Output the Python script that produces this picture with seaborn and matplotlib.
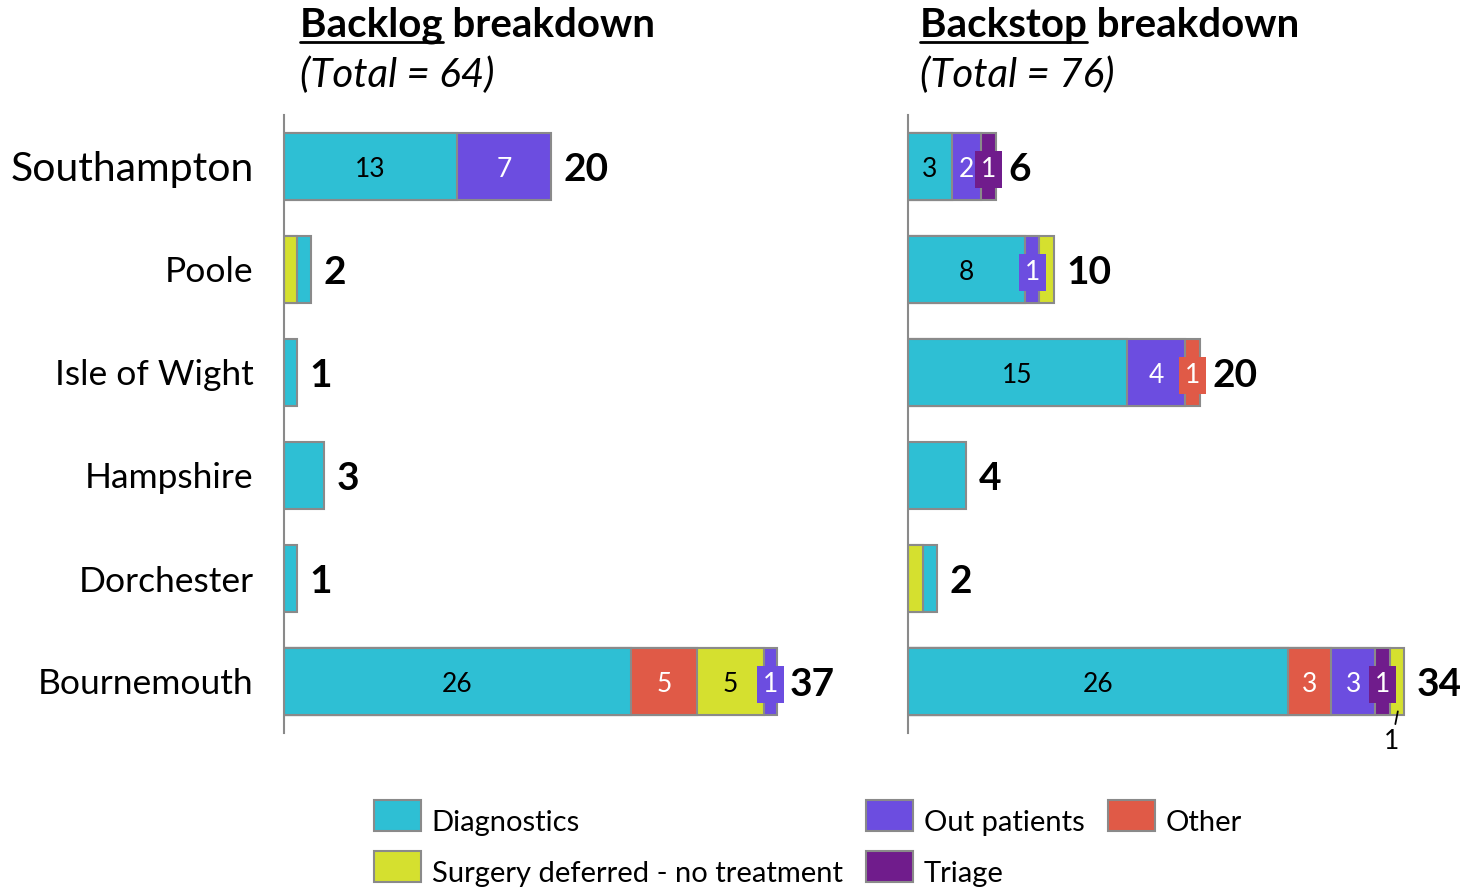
import matplotlib.pyplot as plt
import seaborn as sns
import pandas as pd
from matplotlib.patches import Patch, Rectangle
from matplotlib.legend_handler import HandlerPatch
from matplotlib.lines import Line2D

# regions, top to bottom
regions = ["Southampton", "Poole", "Isle of Wight", "Hampshire", "Dorchester", "Bournemouth"]

series = ["Diagnostics", "Surgery deferred - no treatment", "Out patients", "Triage", "Other"]
series_colors = ["#2EBFD4", "#D5E02F", "#6C4DE0", "#701C8C", "#E05A47"]
white_text = ["Out patients", "Triage", "Other"]

# segments of each row, in the order they are stacked
backlog_cats = [
    ["Diagnostics", "Out patients"],
    ["Surgery deferred - no treatment", "Diagnostics"],
    ["Diagnostics"],
    ["Diagnostics"],
    ["Diagnostics"],
    ["Diagnostics", "Other", "Surgery deferred - no treatment", "Out patients"],
]
backlog_vals = [[13, 7], [1, 1], [1], [3], [1], [26, 5, 5, 1]]

backstop_cats = [
    ["Diagnostics", "Out patients", "Triage"],
    ["Diagnostics", "Out patients", "Surgery deferred - no treatment"],
    ["Diagnostics", "Out patients", "Other"],
    ["Diagnostics"],
    ["Surgery deferred - no treatment", "Diagnostics"],
    ["Diagnostics", "Other", "Out patients", "Triage", "Surgery deferred - no treatment"],
]
backstop_vals = [[3, 2, 1], [8, 1, 1], [15, 4, 1], [4], [1, 1], [26, 3, 3, 1, 1]]

sns.set_theme(style="white")
plt.rcParams["font.family"] = ["Lato", "DejaVu Sans"]
plt.rcParams["text.color"] = "black"

palette = dict(zip(series, series_colors))
EDGE = "#8A8A8A"
W, H = 1460, 896
DY = 0.03  # nudge digits down so they sit visually centred in the bar


def stacked_panel(ax, cats, vals, xmax, skip=(), below=()):
    depth = max(len(v) for v in vals)
    # draw cumulative bars from the outermost layer inwards
    for k in reversed(range(depth)):
        rows = [(reg, sum(v[:k + 1]), c[k]) for reg, c, v in zip(regions, cats, vals) if len(v) > k]
        df = pd.DataFrame(rows, columns=["region", "cum", "series"])
        sns.barplot(data=df, x="cum", y="region", hue="series", order=regions,
                    hue_order=series, palette=palette, dodge=False, width=0.65,
                    saturation=1, errorbar=None, edgecolor=EDGE, linewidth=1.5,
                    legend=False, ax=ax)

    for i, (c, v) in enumerate(zip(cats, vals)):
        total = sum(v)
        left = 0
        if len(v) > 1 and total >= 5:
            for j, (cc, vv) in enumerate(zip(c, v)):
                mid = left + vv / 2
                left += vv
                if (i, j) in skip:
                    continue
                col = "white" if cc in white_text else "black"
                if (i, j) in below:
                    ax.annotate(str(vv), xy=(mid + 0.05, i + 0.29), xytext=(mid - 0.35, i + 0.58),
                                ha="center", va="center", fontsize=19, color="black",
                                annotation_clip=False,
                                arrowprops=dict(arrowstyle="-", color="black", lw=1.3,
                                                shrinkA=1, shrinkB=0))
                elif vv == 1:
                    ax.text(mid, i + DY, str(vv), ha="center", va="center", fontsize=19, color=col,
                            bbox=dict(boxstyle="square,pad=0.22", fc=palette[cc], ec="none"))
                else:
                    ax.text(mid, i + DY, str(vv), ha="center", va="center", fontsize=19, color=col)
        ax.annotate(str(total), xy=(total, i + DY), xytext=(9, 0), textcoords="offset points",
                    ha="left", va="center", fontsize=28, fontweight="bold",
                    annotation_clip=False)

    ax.set_xlim(0, xmax)
    ax.set_xlabel("")
    ax.set_ylabel("")
    ax.set_xticks([])
    for s in ["top", "right", "bottom"]:
        ax.spines[s].set_visible(False)
    ax.spines["left"].set_color(EDGE)
    ax.spines["left"].set_linewidth(1.5)
    ax.tick_params(axis="y", length=0, pad=22, labelsize=25.5, labelcolor="black")


fig = plt.figure(figsize=(W / 100, H / 100), dpi=100)
ax1 = fig.add_axes([284 / W, 163 / H, 600 / W, 618 / H])
ax2 = fig.add_axes([908 / W, 163 / H, 547.5 / W, 618 / H])

stacked_panel(ax1, backlog_cats, backlog_vals, 45)
stacked_panel(ax2, backstop_cats, backstop_vals, 37.5, skip={(1, 2)}, below={(5, 4)})
ax2.set_yticklabels([])
for lab in ax1.get_yticklabels():
    lab.set_va("center_baseline")
    if lab.get_text() == "Southampton":
        lab.set_fontsize(29.5)


def panel_title(x_px, word, rest, total):
    y = 1 - 37 / H
    fig.text(x_px / W, y, word + " " + rest, fontsize=29, fontweight="bold", va="baseline")
    w = fig.text(x_px / W, y, word, fontsize=29, fontweight="bold", va="baseline", alpha=0)
    fig.text(x_px / W, 1 - 87 / H, f"(Total = {total})", fontsize=29, fontstyle="italic",
             va="baseline")
    fig.canvas.draw()
    bb = w.get_window_extent()
    uy = 1 - 42 / H
    fig.add_artist(Line2D([bb.x0 / W, bb.x1 / W], [uy, uy], transform=fig.transFigure,
                          color="black", lw=2))


panel_title(300, "Backlog", "breakdown", sum(map(sum, backlog_vals)))
panel_title(920, "Backstop", "breakdown", sum(map(sum, backstop_vals)))


def raised_patch(legend, orig_handle, xdescent, ydescent, width, height, fontsize):
    # legend swatches sit a little higher than the label text
    return Rectangle((-xdescent, -ydescent + 4.5), width, height)


handles = [Patch(facecolor=palette[s], edgecolor=EDGE, linewidth=1.5, label=s) for s in series]
fig.legend(handles=handles, ncol=3, loc="upper left", bbox_to_anchor=(374 / W, 1 - 806 / H),
           frameon=False, fontsize=21, handlelength=1.6, handleheight=1.25,
           handletextpad=0.38, columnspacing=0.8, labelspacing=0.7,
           borderpad=0, borderaxespad=0,
           handler_map={Patch: HandlerPatch(patch_func=raised_patch)})

fig.savefig("out.png", dpi=100)
